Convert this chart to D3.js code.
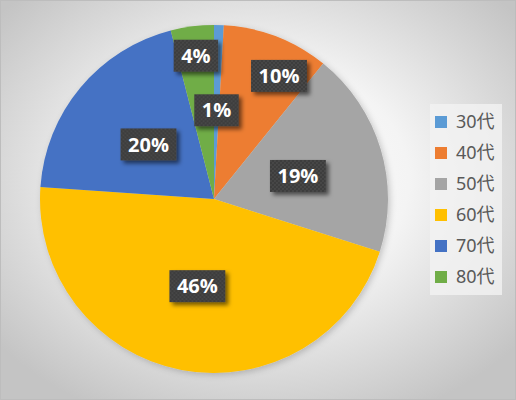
<!DOCTYPE html>
<html>
<head>
<meta charset="utf-8">
<script src="https://d3js.org/d3.v7.min.js"></script>
<style>
  body { margin: 0; }
  svg { display: block; }
</style>
</head>
<body>
<div id="chart"></div>
<script>

// data (percent of total)
var ages = ["30代", "40代", "50代", "60代", "70代", "80代"]
var shares = [0.9, 9.9, 19.1, 46.2, 19.9, 4.0]
var colors = ["#5B9BD5", "#ED7D31", "#A5A5A5", "#FFC000", "#4472C4", "#70AD47"]

// label placement: fraction of the radius, and how far along the slice (0.5 = middle)
var labelRad = [0.51, 0.80, 0.50, 0.51, 0.49, 0.83]
var labelAlong = [0.5, 0.69, 0.52, 0.5, 0.5, 0.5]

var width = 516
var height = 400
var cx = 214, cy = 199, radius = 174

var svg = d3.select("#chart")
  .append("svg")
    .attr("width", width)
    .attr("height", height)

var defs = svg.append("defs")

// chart area background: white in the middle, gray at the corners
var bg = defs.append("radialGradient")
    .attr("id", "bg")
    .attr("cx", "50%").attr("cy", "45%").attr("r", "65%")
bg.append("stop").attr("offset", "0%").attr("stop-color", "#ffffff")
bg.append("stop").attr("offset", "45%").attr("stop-color", "#f4f4f4")
bg.append("stop").attr("offset", "100%").attr("stop-color", "#c4c4c4")

// dotted texture for the label boxes
var pat = defs.append("pattern")
    .attr("id", "dots")
    .attr("width", 4).attr("height", 4)
    .attr("patternUnits", "userSpaceOnUse")
pat.append("rect").attr("width", 4).attr("height", 4).attr("fill", "#3c3c3c")
pat.append("rect").attr("x", 0).attr("y", 0).attr("width", 2).attr("height", 2).attr("fill", "#474747")
pat.append("rect").attr("x", 2).attr("y", 2).attr("width", 2).attr("height", 2).attr("fill", "#474747")

var shadow = defs.append("filter")
    .attr("id", "shadow")
    .attr("x", "-30%").attr("y", "-30%").attr("width", "160%").attr("height", "160%")
shadow.append("feDropShadow")
    .attr("dx", 3).attr("dy", 3).attr("stdDeviation", 2)
    .attr("flood-color", "#000").attr("flood-opacity", 0.55)

var pieShadow = defs.append("filter")
    .attr("id", "pieShadow")
    .attr("x", "-10%").attr("y", "-10%").attr("width", "120%").attr("height", "120%")
pieShadow.append("feDropShadow")
    .attr("dx", 2).attr("dy", 2).attr("stdDeviation", 3)
    .attr("flood-color", "#000").attr("flood-opacity", 0.2)

svg.append("rect")
    .attr("width", width).attr("height", height)
    .attr("fill", "url(#bg)")
svg.append("rect")
    .attr("x", 0.5).attr("y", 0.5)
    .attr("width", width - 1).attr("height", height - 1)
    .attr("fill", "none")
    .attr("stroke", "#bdbdbd")

var rows = ages.map(function(a, i) {
  return { age: a, value: shares[i], color: colors[i], lr: labelRad[i], la: labelAlong[i] }
})

var pie = d3.pie()
    .sort(null)
    .value(function(d) { return d.value })

var arc = d3.arc()
    .innerRadius(0)
    .outerRadius(radius)

var arcs = pie(rows)

var g = svg.append("g")
    .attr("transform", "translate(" + cx + "," + cy + ")")

g.append("g")
    .attr("filter", "url(#pieShadow)")
  .selectAll("path")
  .data(arcs)
  .enter()
  .append("path")
    .attr("d", arc)
    .attr("fill", function(d) { return d.data.color })

// data labels
var total = d3.sum(shares)
var labels = g.selectAll(".lbl")
  .data(arcs)
  .enter()
  .append("g")
    .attr("class", "lbl")
    .attr("transform", function(d) {
      var r = radius * d.data.lr
      var a = d.startAngle + (d.endAngle - d.startAngle) * d.data.la
      return "translate(" + (r * Math.sin(a)) + "," + (-r * Math.cos(a)) + ")"
    })

var boxes = labels.append("rect")
    .attr("fill", "url(#dots)")
    .attr("filter", "url(#shadow)")

var txt = labels.append("text")
    .attr("text-anchor", "middle")
    .attr("dy", "0.36em")
    .style("font-family", "'Open Sans', 'Noto Sans', sans-serif")
    .style("font-weight", "bold")
    .style("font-size", "20px")
    .attr("fill", "#ffffff")
    .text(function(d) { return Math.round(d.data.value / total * 100) + "%" })

txt.each(function(d) {
  var w = this.getComputedTextLength() + 15
  d3.select(this.parentNode).select("rect")
    .attr("x", -w / 2).attr("y", -16)
    .attr("width", w).attr("height", 32)
})

// legend
var legend = svg.append("g")
    .attr("transform", "translate(430,104)")

legend.append("rect")
    .attr("width", 72).attr("height", 191)
    .attr("fill", "#f2f2f2")
    .attr("opacity", 0.8)

var item = legend.selectAll(".item")
  .data(rows)
  .enter()
  .append("g")
    .attr("class", "item")
    .attr("transform", function(d, i) { return "translate(5," + (18 + i * 31) + ")" })

item.append("rect")
    .attr("y", -6)
    .attr("width", 12).attr("height", 12)
    .attr("fill", function(d) { return d.color })

item.append("text")
    .attr("x", 21)
    .attr("dy", "0.36em")
    .style("font-family", "'Noto Sans', 'Noto Sans CJK JP', sans-serif")
    .style("font-size", "18px")
    .attr("fill", "#595959")
    .text(function(d) { return d.age })

</script>
</body>
</html>
